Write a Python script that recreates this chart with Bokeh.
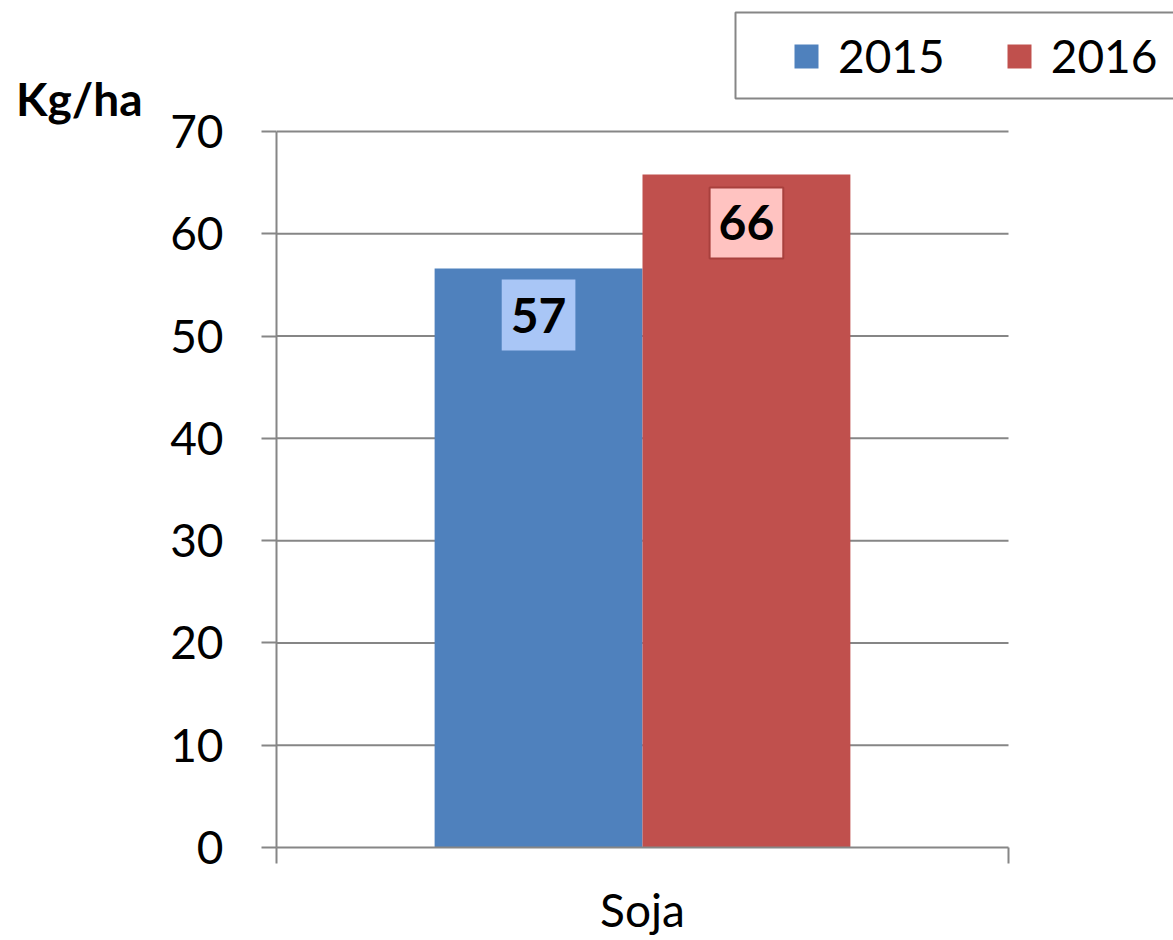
from bokeh.plotting import figure
from bokeh.models import (Range1d, FixedTicker, LinearAxis,
                          Legend, LegendItem, ColumnDataSource, BoxAnnotation)
from bokeh.transform import dodge
from bokeh.core.properties import value
from bokeh.embed import file_html
from bokeh.resources import INLINE

# ---- data ----
categories = ["Soja"]
series = ["2015", "2016"]
values_2015 = [56.6]
values_2016 = [65.8]
y_ticks = [0, 10, 20, 30, 40, 50, 60, 70]
y_unit = "Kg/ha"

# ---- style / layout ----
BLUE = "#4f81bd"
RED = "#c0504d"
GRAY = "#868686"
FONT = "Lato"
BAR_W = 0.284
W, H = 1173, 940
LEFT, BOTTOM = 276, 93
X_END = (W - LEFT) / 732          # category band spans 732 px
Y_END = 70 * (H - BOTTOM) / 716   # 0..70 spans 716 px
UNIT_Y = 73.2                     # vertical position of the unit label

n = len(categories)
centers = [(i + 0.5) / n for i in range(n)]
edges = [i / n for i in range(n + 1)]

src = ColumnDataSource(dict(
    xc=centers,
    v15=values_2015,
    v16=values_2016,
    l15=[f"{v:.0f}" for v in values_2015],
    l16=[f"{v:.0f}" for v in values_2016],
))
grid_src = ColumnDataSource(dict(y=y_ticks[1:]))

p = figure(width=W, height=H,
           x_range=Range1d(0, X_END), y_range=Range1d(0, Y_END),
           output_backend="svg", toolbar_location=None, x_axis_location=None,
           min_border_left=LEFT, min_border_right=0,
           min_border_top=0, min_border_bottom=BOTTOM)
p.outline_line_color = None
p.background_fill_color = "white"
p.border_fill_color = "white"
p.xgrid.grid_line_color = None
p.ygrid.grid_line_color = None

# y axis
yax = p.yaxis[0]
yax.ticker = FixedTicker(ticks=y_ticks)
yax.bounds = (y_ticks[0], y_ticks[-1])
yax.axis_line_color = GRAY
yax.axis_line_width = 2
yax.major_tick_line_color = GRAY
yax.major_tick_line_width = 2
yax.major_tick_out = 15
yax.major_tick_in = 0
yax.minor_tick_line_color = None
yax.major_label_text_font = FONT
yax.major_label_text_font_size = "46px"
yax.major_label_text_color = "black"
yax.major_label_standoff = 38

# unit label, as the label of an outer left axis
unit_ax = LinearAxis(ticker=FixedTicker(ticks=[UNIT_Y]),
                     major_label_overrides={UNIT_Y: y_unit},
                     axis_line_color=None, major_tick_line_color=None,
                     minor_tick_line_color=None, major_tick_out=0,
                     major_label_standoff=25,
                     major_label_text_font=FONT, major_label_text_font_style="bold",
                     major_label_text_font_size="46px", major_label_text_color="black")
p.add_layout(unit_ax, "left")

# horizontal grid lines across the category band
p.segment(x0=edges[0], x1=edges[-1], y0="y", y1="y", source=grid_src,
          line_color=GRAY, line_width=2)

# x axis: boundary ticks + category label
edge_ax = LinearAxis(ticker=FixedTicker(ticks=edges), bounds=(edges[0], edges[-1]),
                     major_label_overrides={e: "" for e in edges},
                     major_label_text_font_size="1px", major_label_standoff=0,
                     axis_line_color=GRAY, axis_line_width=2,
                     major_tick_line_color=GRAY, major_tick_line_width=2,
                     major_tick_out=16, major_tick_in=0, minor_tick_line_color=None)
p.add_layout(edge_ax, "below")
cat_ax = LinearAxis(ticker=FixedTicker(ticks=centers), bounds=(edges[0], edges[-1]),
                    major_label_overrides={c: name for c, name in zip(centers, categories)},
                    axis_line_color=None, major_tick_line_color=None, minor_tick_line_color=None,
                    major_label_text_font=FONT, major_label_text_font_size="46px",
                    major_label_text_color="black", major_label_standoff=12)
p.add_layout(cat_ax, "below")

# bars
r15 = p.vbar(x=dodge("xc", -BAR_W / 2), top="v15", width=BAR_W,
             source=src, fill_color=BLUE, line_color=None)
r16 = p.vbar(x=dodge("xc", BAR_W / 2), top="v16", width=BAR_W,
             source=src, fill_color=RED, line_color=None)

# value labels
pad = dict(left=9, right=9, top=18, bottom=18)
p.text(x=dodge("xc", -BAR_W / 2), y="v15", text="l15", source=src,
       text_align="center", text_baseline="top", y_offset=11,
       text_font=value(FONT), text_font_style="bold", text_font_size="48px",
       text_color="black", background_fill_color="#a9c6f6", padding=pad)
p.text(x=dodge("xc", BAR_W / 2), y="v16", text="l16", source=src,
       text_align="center", text_baseline="top", y_offset=13,
       text_font=value(FONT), text_font_style="bold", text_font_size="48px",
       text_color="black", background_fill_color="#ffc3c1",
       border_line_color="#a8403d", border_line_width=2, padding=pad)

# legend frame and legend
box = BoxAnnotation(left=459, right=1000, bottom=749, top=835,
                    left_units="screen", right_units="screen",
                    bottom_units="screen", top_units="screen",
                    fill_color="white", fill_alpha=1,
                    line_color=GRAY, line_alpha=1, line_width=2)
p.add_layout(box)
legend = Legend(items=[LegendItem(label=series[0], renderers=[r15]),
                       LegendItem(label=series[1], renderers=[r16])],
                orientation="horizontal", location=(515, 764),
                border_line_color=None, background_fill_alpha=0,
                label_text_font=FONT, label_text_font_size="46px",
                label_text_color="black",
                glyph_width=30, glyph_height=30, label_standoff=17, spacing=59,
                padding=0, margin=0)
p.add_layout(legend)

open("out.html", "w").write(file_html(p, INLINE))
